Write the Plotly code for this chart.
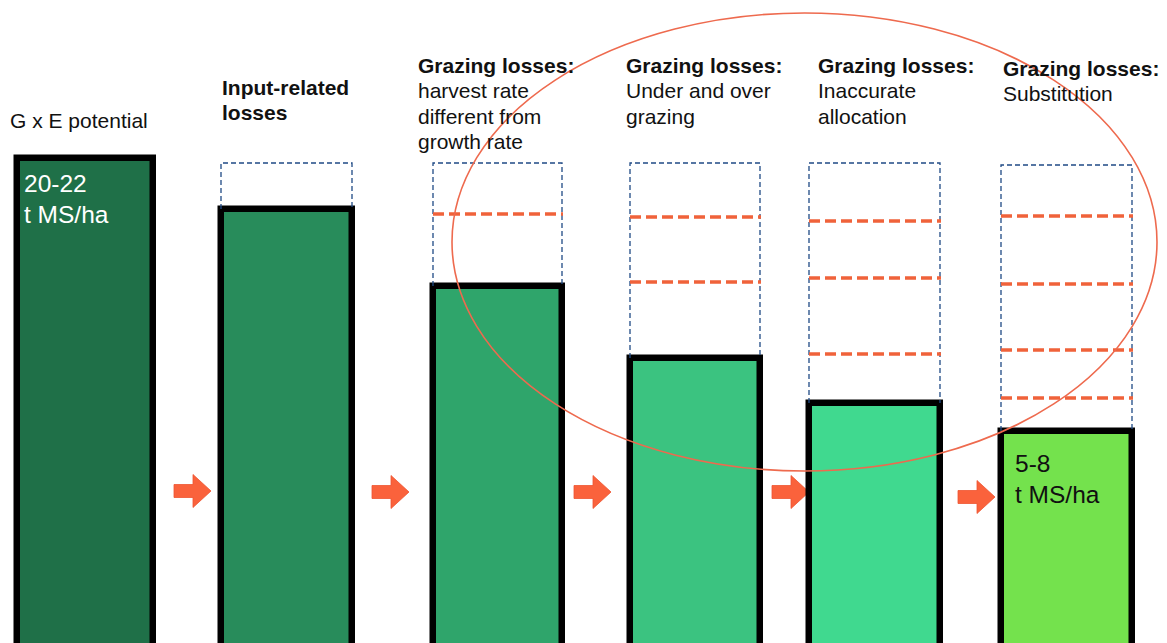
import plotly.graph_objects as go

# ---------------- data (chart units: 0 = bottom edge of the picture) ----------------
STAGES = [
    "G x E potential",
    "Input-related losses",
    "Grazing losses: harvest rate different from growth rate",
    "Grazing losses: Under and over grazing",
    "Grazing losses: Inaccurate allocation",
    "Grazing losses: Substitution",
]
STAGE_LABELS = [
    ["G x E potential"],
    ["<b>Input-related</b>", "<b>losses</b>"],
    ["<b>Grazing losses:</b>", "harvest rate", "different from", "growth rate"],
    ["<b>Grazing losses:</b>", "Under and over", "grazing"],
    ["<b>Grazing losses:</b>", "Inaccurate", "allocation"],
    ["<b>Grazing losses:</b>", "Substitution"],
]
BAR_TOP = [485, 434, 357, 285, 240, 212]            # height reached by each stage
POTENTIAL_TOP = [None, 480, 480, 480, 480, 478]      # dashed "potential" box top
LOSS_LEVELS = [[], [], [429], [426, 361], [422, 365, 289], [427, 359, 293, 245]]
BAR_TEXT = [["20-22", "t MS/ha"], [], [], [], [], ["5-8", "t MS/ha"]]

# ---------------- layout / style ----------------
W, H = 1167, 643
OFF = 8                      # page body margin of the html page
BASE = -40
BAR_CENTERS = [85, 286.5, 497.5, 695, 874.5, 1066.5]
BAR_WIDTHS = [136, 131, 129, 130, 131, 131]
BAR_COLORS = ["#1f7048", "#288c5b", "#2fa56b", "#3bc380", "#40d98f", "#74e24d"]
LABEL_X = [8, 220, 416, 624, 816, 1001]
LABEL_Y = [120, 87, 65, 65, 65, 68]          # pixel centre of first label line
LINE_STEP = 25.5
ARROW_TIPS = [211, 409, 611, 809, 995]
ARROW_Y = [491, 492, 492, 492, 497]
FONT = "Liberation Sans, Arial, sans-serif"
FS = 21


def yv(p):
    return H - p


fig = go.Figure()

# dashed potential boxes and loss levels
for i in range(len(STAGES)):
    if POTENTIAL_TOP[i] is None:
        continue
    l = BAR_CENTERS[i] - BAR_WIDTHS[i] / 2
    r = BAR_CENTERS[i] + BAR_WIDTHS[i] / 2
    fig.add_trace(go.Scatter(
        x=[l, l, r, r], y=[BAR_TOP[i], POTENTIAL_TOP[i], POTENTIAL_TOP[i], BAR_TOP[i]],
        mode="lines", line=dict(color="#1f4a85", width=1.3, dash="5px,3px"),
        hoverinfo="skip", showlegend=False))
    for lv in LOSS_LEVELS[i]:
        fig.add_trace(go.Scatter(
            x=[l, r + 1], y=[lv, lv], mode="lines",
            line=dict(color="#f0623a", width=3.5, dash="11px,5px"),
            hoverinfo="skip", showlegend=False))

# bars
fig.add_trace(go.Bar(
    x=BAR_CENTERS, y=[t - BASE for t in BAR_TOP], base=BASE, width=BAR_WIDTHS,
    marker=dict(color=BAR_COLORS, line=dict(color="black", width=6.5)),
    hovertext=STAGES, hoverinfo="text", showlegend=False))

shapes = []
# arrows
for tip, ay in zip(ARROW_TIPS, ARROW_Y):
    c = yv(ay)
    x0, xm = tip - 37, tip - 18
    path = (f"M {x0},{c+6.5} L {xm},{c+6.5} L {xm},{c+16.5} L {tip},{c} "
            f"L {xm},{c-16.5} L {xm},{c-6.5} L {x0},{c-6.5} Z")
    shapes.append(dict(type="path", path=path, xref="x", yref="y",
                       fillcolor="#fa623c", line=dict(color="#ee5430", width=0.8),
                       layer="below"))
# ellipse
shapes.append(dict(type="circle", xref="x", yref="y", x0=452, x1=1157,
                   y0=yv(471), y1=yv(13), line=dict(color="#ee6a4e", width=1.6),
                   layer="above"))

annotations = []
for i, lines in enumerate(STAGE_LABELS):
    for k, ln in enumerate(lines):
        annotations.append(dict(x=LABEL_X[i], y=yv(LABEL_Y[i] + k * LINE_STEP),
                                xref="x", yref="y", text=ln, showarrow=False,
                                xanchor="left", yanchor="middle", align="left",
                                font=dict(family=FONT, size=FS, color="#111111")))
in_bar = [(0, 22, 183, "white"), (5, 1013, 463, "#111111")]
for i, tx, ty, col in in_bar:
    for k, ln in enumerate(BAR_TEXT[i]):
        annotations.append(dict(x=tx, y=yv(ty + k * 31), xref="x", yref="y", text=ln,
                                showarrow=False, xanchor="left", yanchor="middle",
                                align="left", font=dict(family=FONT, size=24.5, color=col)))

fig.update_layout(
    width=W, height=H, margin=dict(l=0, r=0, t=0, b=0),
    paper_bgcolor="white", plot_bgcolor="white",
    xaxis=dict(range=[OFF, W + OFF], visible=False, fixedrange=True),
    yaxis=dict(range=[-OFF, H - OFF], visible=False, fixedrange=True),
    shapes=shapes, annotations=annotations, bargap=0,
)
fig.write_html("out.html")
